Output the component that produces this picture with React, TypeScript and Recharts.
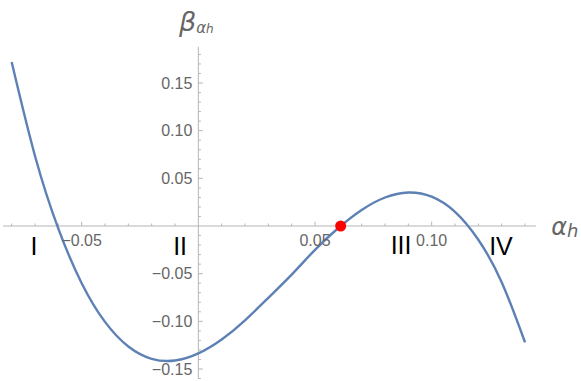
import React from "react";
import { LineChart, Line, XAxis, YAxis, ReferenceLine, ReferenceDot } from "recharts";

// curve samples (alpha_h, beta)
const alphaValues = [-0.08, -0.07, -0.06, -0.05, -0.04, -0.03, -0.02, -0.01, 0, 0.01, 0.02, 0.03, 0.04, 0.05, 0.06, 0.07, 0.08, 0.09, 0.1, 0.11, 0.12, 0.13, 0.14];
const betaValues = [0.172, 0.0735, -0.0027, -0.060, -0.1006, -0.1264, -0.1393, -0.1411, -0.1336, -0.119, -0.0989, -0.0753, -0.051, -0.025, -0.0021, 0.0168, 0.0299, 0.0352, 0.0308, 0.0149, -0.0144, -0.0589, -0.122];

const xMajorTicks = [-0.05, 0.05, 0.1];
const xMinorTicks = [-0.08, -0.07, -0.06, -0.04, -0.03, -0.02, -0.01, 0.01, 0.02, 0.03, 0.04, 0.06, 0.07, 0.08, 0.09, 0.11, 0.12, 0.13, 0.14];
const yMajorTicks = [-0.15, -0.1, -0.05, 0.05, 0.1, 0.15];
const yMinorTicks = [-0.16, -0.14, -0.13, -0.12, -0.11, -0.09, -0.08, -0.07, -0.06, -0.04, -0.03, -0.02, -0.01, 0.01, 0.02, 0.03, 0.04, 0.06, 0.07, 0.08, 0.09, 0.11, 0.12, 0.13, 0.14, 0.16, 0.17, 0.18];

const regionLabels = ["I", "II", "III", "IV"];
const regionX = [-0.0704, -0.0078, 0.0869, 0.1297];
const regionY = [-0.021, -0.021, -0.02, -0.021];

const fixedPoint = { x: 0.061, y: 0 };

const X_DOMAIN: [number, number] = [-0.085, 0.164];
const Y_DOMAIN: [number, number] = [-0.1626, 0.2371];
const X_AXIS_RANGE = [-0.0837, 0.1447];
const Y_AXIS_RANGE = [-0.1605, 0.188];

const data = alphaValues.map((x, i) => ({ x, y: betaValues[i] }));

const AXIS_COLOR = "#b5b5b5";
const TEXT_COLOR = "#666666";
const FONT = "'Liberation Sans', Arial, sans-serif";

const fmt = (v: number) => (v < 0 ? "\u2212" : "") + Math.abs(v).toFixed(2);

// tick lengths in data units (approx 4.5px / 2.5px)
const X_TICK_MAJOR = 0.0046;
const X_TICK_MINOR = 0.0026;
const Y_TICK_MAJOR = 0.0019;
const Y_TICK_MINOR = 0.0011;

export default function App() {
  return (
    <div style={{ position: "absolute", left: 0, top: 0, background: "#fff" }}>
      <LineChart width={581} height={381} data={data} margin={{ top: 0, right: 0, bottom: 0, left: 0 }}>
        <XAxis dataKey="x" type="number" domain={X_DOMAIN} hide allowDataOverflow />
        <YAxis type="number" domain={Y_DOMAIN} hide allowDataOverflow />
        <ReferenceLine
          segment={[{ x: X_AXIS_RANGE[0], y: 0 }, { x: X_AXIS_RANGE[1], y: 0 }]}
          stroke={AXIS_COLOR}
          strokeWidth={1}
          ifOverflow="visible"
        />
        <ReferenceLine
          segment={[{ x: 0, y: Y_AXIS_RANGE[0] }, { x: 0, y: Y_AXIS_RANGE[1] }]}
          stroke={AXIS_COLOR}
          strokeWidth={1}
          ifOverflow="visible"
        />
        {xMajorTicks.map((t) => (
          <ReferenceLine key={"xM" + t} segment={[{ x: t, y: 0 }, { x: t, y: X_TICK_MAJOR }]} stroke={AXIS_COLOR} ifOverflow="visible" />
        ))}
        {xMinorTicks.map((t) => (
          <ReferenceLine key={"xm" + t} segment={[{ x: t, y: 0 }, { x: t, y: X_TICK_MINOR }]} stroke={AXIS_COLOR} ifOverflow="visible" />
        ))}
        {yMajorTicks.map((t) => (
          <ReferenceLine key={"yM" + t} segment={[{ x: 0, y: t }, { x: Y_TICK_MAJOR, y: t }]} stroke={AXIS_COLOR} ifOverflow="visible" />
        ))}
        {yMinorTicks.map((t) => (
          <ReferenceLine key={"ym" + t} segment={[{ x: 0, y: t }, { x: Y_TICK_MINOR, y: t }]} stroke={AXIS_COLOR} ifOverflow="visible" />
        ))}
        {xMajorTicks.map((t) => (
          <ReferenceDot
            key={"xl" + t}
            x={t}
            y={0}
            r={0}
            fill="none"
            stroke="none"
            ifOverflow="visible"
            label={{ value: fmt(t), position: "bottom", offset: 9, fill: TEXT_COLOR, fontSize: 16, fontFamily: FONT }}
          />
        ))}
        {yMajorTicks.map((t) => (
          <ReferenceDot
            key={"yl" + t}
            x={0}
            y={t}
            r={0}
            fill="none"
            stroke="none"
            ifOverflow="visible"
            label={{ value: fmt(t), position: "left", offset: 6, fill: TEXT_COLOR, fontSize: 16, fontFamily: FONT }}
          />
        ))}
        {regionLabels.map((s, i) => (
          <ReferenceDot
            key={"r" + s}
            x={regionX[i]}
            y={regionY[i]}
            r={0}
            fill="none"
            stroke="none"
            ifOverflow="visible"
            label={{ value: s, position: "center", fill: "#000", fontSize: 25, fontFamily: FONT }}
          />
        ))}
        <Line
          type="natural"
          dataKey="y"
          stroke="#5E81B5"
          strokeWidth={2.4}
          dot={false}
          activeDot={false}
          isAnimationActive={false}
        />
        <ReferenceDot x={fixedPoint.x} y={fixedPoint.y} r={5.5} fill="#ff0000" stroke="none" ifOverflow="visible" />
        <ReferenceDot
          x={-0.0083}
          y={0.2051}
          r={0}
          fill="none"
          stroke="none"
          ifOverflow="visible"
          label={{
            position: "center",
            content: (p: any) => {
              const vb = p.viewBox || {};
              const x = vb.x ?? 0;
              const y = vb.y ?? 0;
              return (
                <text x={x} y={y} fill={TEXT_COLOR} fontFamily="'DejaVu Sans', sans-serif">
                  <tspan fontSize={27} fontStyle="italic">β</tspan>
                  <tspan fontSize={15} fontStyle="italic" dy={2.5}>α</tspan>
                  <tspan fontSize={12} fontStyle="italic">h</tspan>
                </text>
              );
            },
          }}
        />
        <ReferenceDot
          x={0.1512}
          y={-0.0094}
          r={0}
          fill="none"
          stroke="none"
          ifOverflow="visible"
          label={{
            position: "center",
            content: (p: any) => {
              const vb = p.viewBox || {};
              const x = vb.x ?? 0;
              const y = vb.y ?? 0;
              return (
                <text x={x} y={y} fill={TEXT_COLOR} fontFamily="'DejaVu Sans', sans-serif">
                  <tspan fontSize={24} fontStyle="italic">α</tspan>
                  <tspan fontSize={18} fontStyle="italic" dy={2}>h</tspan>
                </text>
              );
            },
          }}
        />
      </LineChart>
    </div>
  );
}
